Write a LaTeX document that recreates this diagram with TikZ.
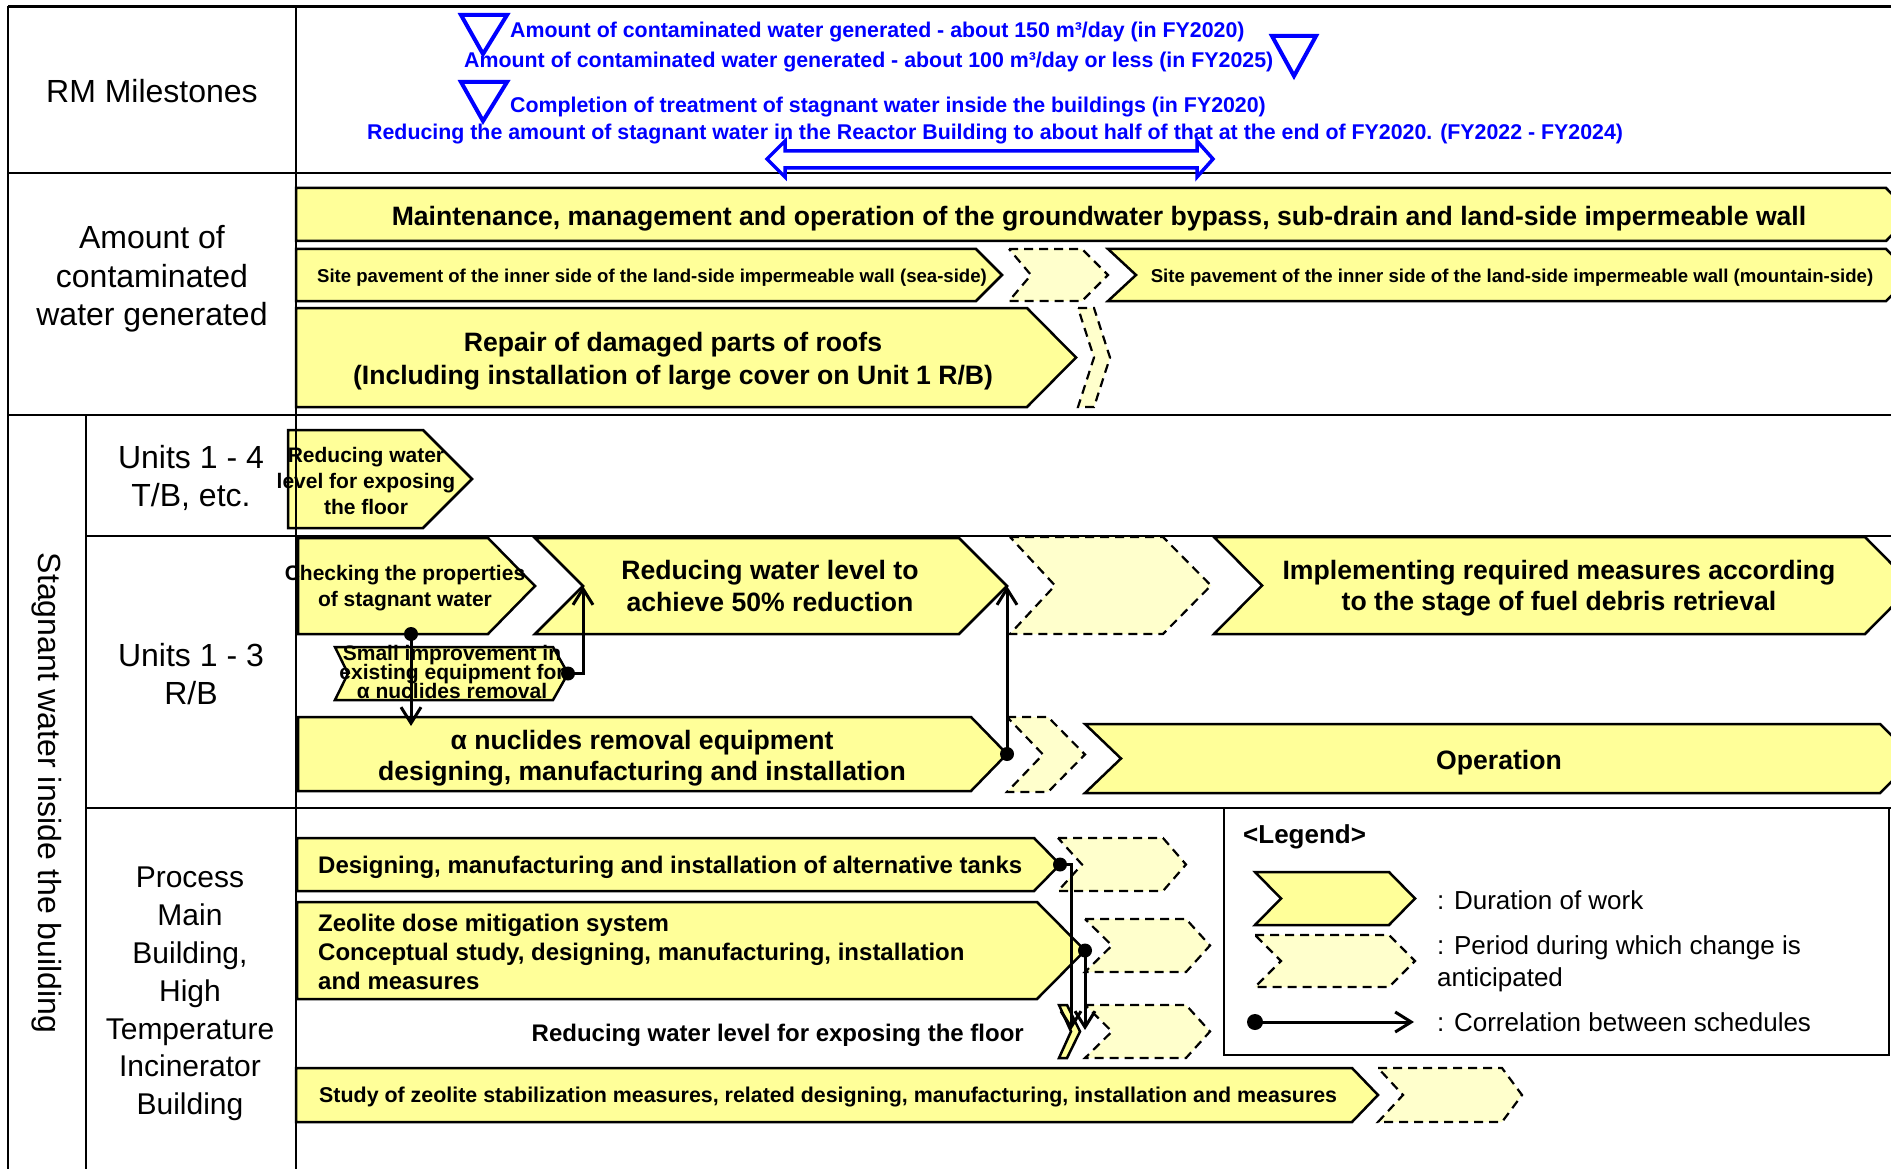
\documentclass[tikz,border=0pt]{standalone}
\usepackage{fontspec}
\setmainfont{Liberation Sans}
\usetikzlibrary{arrows.meta}

\definecolor{chevY}{RGB}{255,255,153}
\definecolor{chevP}{RGB}{255,255,204}
\definecolor{msBlue}{RGB}{0,0,255}

% lets lines sit closer than their glyph height
\newcommand\tightlines{\lineskiplimit=-50pt\relax\lineskip=0pt\relax}

% chevron: [style]{name}{left x}{top y}{tip x}{bottom y}{point depth}{notch depth}
\newcommand\chev[8][chevsolid]{%
  \path[#1] (#3,#4) -- ({#5-#7},#4) -- (#5,{(#4+#6)/2}) -- ({#5-#7},#6)
    -- (#3,#6) -- ({#3+#8},{(#4+#6)/2}) -- cycle;
  \coordinate (#2-tip) at (#5,{(#4+#6)/2});
  \coordinate (#2-notch) at ({#3+#8},{(#4+#6)/2});
}

\begin{document}
\begin{tikzpicture}[x=1pt,y=-1pt,
  chevsolid/.style={fill=chevY, draw=black, line width=2.5pt, line join=miter},
  chevdash/.style={fill=chevP, draw=black, line width=2.2pt, dash pattern=on 9pt off 6pt},
  gridline/.style={line width=2.5pt},
  hdr/.style={font=\fontsize{32}{37.5}\selectfont, align=center, inner sep=0pt},
  big/.style={font=\fontsize{26.6}{32}\selectfont\bfseries, align=center, inner sep=0pt},
  mid/.style={font=\fontsize{21}{26}\selectfont\bfseries, align=center, inner sep=0pt},
  lrg/.style={font=\fontsize{24}{29}\selectfont\bfseries, align=center, inner sep=0pt},
  sml/.style={font=\fontsize{18.6}{22}\selectfont\bfseries, align=center, inner sep=0pt},
  leg/.style={font=\fontsize{26}{32.5}\selectfont, align=left, inner sep=0pt, anchor=west},
  ms/.style={font=\fontsize{21.35}{24}\selectfont\bfseries, text=msBlue, inner sep=0pt, anchor=base west},
  msTri/.style={draw=msBlue, fill=white, line width=4pt, line join=miter},
  msArrow/.style={draw=msBlue, fill=white, line width=3.5pt, line join=miter},
  corr/.style={line width=3pt, -{Straight Barb[length=16pt,width=20pt]}},
  dot/.style={fill=black}
]
\path[use as bounding box] (0,0) rectangle (1891,1169);
\clip (0,0) rectangle (1891,1169);

% ---------- contaminated water generated ----------
\chev{maint}{296}{188}{1912}{241}{26}{0}
\chev{seaS}{296}{249}{1002}{301}{26}{0}
\chev[chevdash]{dashA}{1009}{249}{1108}{301}{26}{22}
\chev{mtnS}{1108}{249}{1912}{301}{26}{28}
\chev{roof}{296}{308}{1076}{407}{49}{0}
\chev[chevdash]{dashB}{1078}{308}{1110}{407}{16}{16}

% ---------- Units 1-4 T/B ----------
\chev{expA}{288}{430}{472}{528}{49}{0}

% ---------- Units 1-3 R/B ----------
\chev{chk}{298}{538}{535}{634}{47}{0}
\chev{rfifty}{535}{538}{1007}{634}{48}{48}
\chev[chevdash]{dashC}{1010}{537}{1211}{634}{48}{45}
\chev{impl}{1214}{537}{1913}{634}{48}{48}
\chev{small}{335}{647}{568}{700}{15}{13}
\chev{alpha}{298}{717}{1007}{791}{36}{0}
\chev[chevdash]{dashD}{1007}{717}{1085}{792}{37}{36}
\chev{oper}{1085}{724}{1915}{793}{35}{36}

% ---------- Process Main Building / HTI ----------
\chev{tanks}{297}{838}{1060}{891}{26}{0}
\chev[chevdash]{dashE}{1058}{838}{1186}{891}{23}{24}
\chev{zeo}{297}{902}{1085}{999}{48}{0}
\chev[chevdash]{dashF}{1085}{919}{1210}{972}{24}{27}
\chev{sliver}{1059}{1005}{1080}{1058}{13}{12}
\chev[chevdash]{dashG}{1085}{1005}{1210}{1058}{24}{27}
\chev{study}{296}{1068}{1378}{1122}{26}{0}
\chev[chevdash]{dashH}{1378}{1068}{1522}{1122}{20}{25}

% ---------- table rules ----------
\draw[line width=3pt] (8,7) -- (1891,7);
\draw[gridline] (8,173) -- (1891,173);
\draw[gridline] (8,415) -- (1891,415);
\draw[gridline] (86,536) -- (1891,536);
\draw[gridline] (86,808) -- (1891,808);
\draw[gridline] (8,6) -- (8,1169);
\draw[gridline] (86,415) -- (86,1169);
\draw[gridline] (296,6) -- (296,1169);

% ---------- legend ----------
\draw[gridline] (1224,808) rectangle (1889,1055);
\chev{legS}{1255}{872}{1415}{925}{26}{26}
\chev[chevdash]{legD}{1255}{935}{1415}{987}{26}{26}
\node[leg, font=\fontsize{26}{30}\selectfont\bfseries] (lgTitle) at (1243,837) {<Legend>};
\node[leg] (lgA) at (1437,900) {: Duration of work};
\node[leg] (lgB) at (1437,964) {: Period during which change is\\anticipated};
\node[leg] (lgC) at (1437,1022) {: Correlation between schedules};
\coordinate (lgFrom) at (1255,1022);
\coordinate (lgTo) at (1414,1022);
\fill[dot] (lgFrom) circle (8pt);
\draw[corr] (lgFrom) -- (lgTo);

% ---------- row headers ----------
\node[hdr] (hRM) at (152,91) {RM Milestones};
\node[hdr, font=\fontsize{32}{38.5}\selectfont] (hAmt) at (152,279) {Amount of\\contaminated\\water generated};
\node[hdr] (hUa) at (191,478) {Units 1 - 4\\T/B, etc.};
\node[hdr] (hUb) at (191,674) {Units 1 - 3\\R/B};
\node[hdr, font=\fontsize{30}{37.8}\selectfont] (hProc) at (190,994) {Process\\Main\\Building,\\High\\Temperature\\Incinerator\\Building};
\node[hdr, rotate=-90] (hStag) at (47,793) {Stagnant water inside the building};

% ---------- RM milestones ----------
\draw[msTri] (461,15) -- (507,15) -- (483,54) -- cycle;
\draw[msTri] (1272,36) -- (1316,36) -- (1294,76) -- cycle;
\draw[msTri] (461,82) -- (507,82) -- (483,121) -- cycle;
\node[ms] (msA) at (510,38) {Amount of contaminated water generated - about 150 m³/day (in FY2020)};
\node[ms] (msB) at (464,68) {Amount of contaminated water generated - about 100 m³/day or less (in FY2025)};
\node[ms] (msC) at (510,113) {Completion of treatment of stagnant water inside the buildings (in FY2020)};
\node[ms] (msD) at (367,140) {Reducing the amount of stagnant water in the Reactor Building to about half of that at the end of FY2020. (FY2022 - FY2024)};
\draw[msArrow] (767,159) -- (785,141) -- (785,151) -- (1197,151) -- (1197,141) -- (1213,159)
  -- (1197,177) -- (1197,168) -- (785,168) -- (785,177) -- cycle;

% ---------- work item labels ----------
\node[big] (tMaint) at (1099,219) {Maintenance, management and operation of the groundwater bypass, sub-drain and land-side impermeable wall};
\node[sml] (tSea) at (652,278) {Site pavement of the inner side of the land-side impermeable wall (sea-side)};
\node[sml] (tMtn) at (1512,278) {Site pavement of the inner side of the land-side impermeable wall (mountain-side)};
\node[big, font=\fontsize{26.6}{33}\selectfont\bfseries] (tRoof) at (673,361) {Repair of damaged parts of roofs\\(Including installation of large cover on Unit 1 R/B)};
\node[mid] (tExp) at (366,481) {Reducing water\\level for exposing\\the floor};
\node[mid] (tChk) at (405,588) {Checking the properties\\of stagnant water};
\node[big] (tFifty) at (770,586) {Reducing water level to\\achieve 50\% reduction};
\node[big, font=\fontsize{26.6}{31.5}\selectfont\bfseries] (tImpl) at (1559,588) {Implementing required measures according\\to the stage of fuel debris retrieval};
\node[mid, font={\fontsize{21}{18.7}\selectfont\bfseries\tightlines}] (tSmall) at (452,672) {Small improvement in\\existing equipment for\\α nuclides removal};
\node[big, font=\fontsize{26.6}{31}\selectfont\bfseries] (tAlpha) at (642,758) {α nuclides removal equipment\\designing, manufacturing and installation};
\node[big] (tOper) at (1499,763) {Operation};
\node[lrg, anchor=west] (tTanks) at (318,867) {Designing, manufacturing and installation of alternative tanks};
\node[lrg, anchor=west, align=left] (tZeo) at (318,952) {Zeolite dose mitigation system\\Conceptual study, designing, manufacturing, installation\\and measures};
\node[lrg, anchor=east] (tFloor) at (1024,1035) {Reducing water level for exposing the floor};
\node[sml, font=\fontsize{21.4}{25}\selectfont\bfseries, anchor=west] (tStudy) at (319,1097) {Study of zeolite stabilization measures, related designing, manufacturing, installation and measures};

% ---------- correlations between schedules ----------
\coordinate (chkOut) at (411,634);
\coordinate (alphaIn) at (411,726);
\fill[dot] (chkOut) circle (7pt);
\draw[corr] (chkOut) -- (alphaIn);

\fill[dot] (small-tip) circle (7pt);
\draw[corr] (small-tip) -| (rfifty-notch);

\fill[dot] (alpha-tip) circle (7pt);
\draw[corr] (alpha-tip) -- (rfifty-tip);

\coordinate (floorA) at (1071,1030);
\coordinate (floorB) at (1085,1030);
\fill[dot] (tanks-tip) circle (7pt);
\draw[corr] (tanks-tip) -| (floorA);
\fill[dot] (zeo-tip) circle (7pt);
\draw[corr] (zeo-tip) -- (floorB);
\end{tikzpicture}
\end{document}
